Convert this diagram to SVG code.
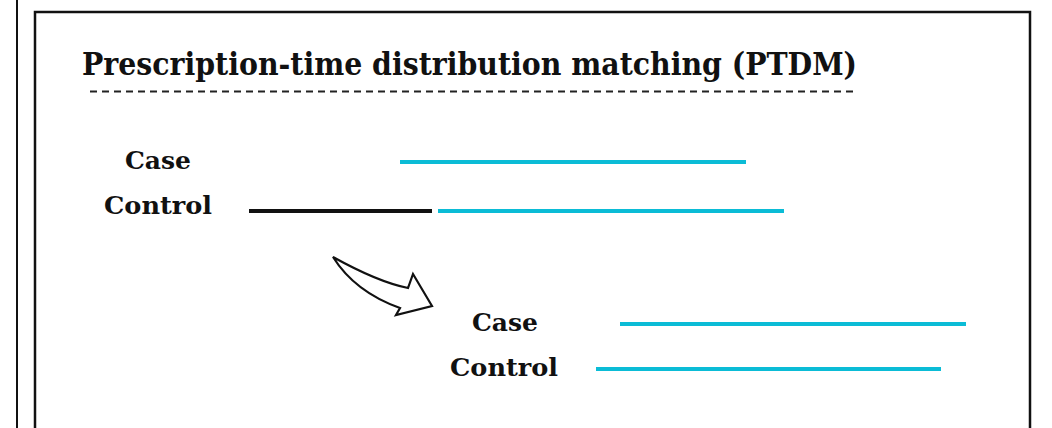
<svg xmlns="http://www.w3.org/2000/svg" width="1052" height="428" viewBox="0 0 1052 428">
<style>
.lbl{font-family:"DejaVu Serif","Liberation Serif",serif;font-weight:bold;font-size:25px;fill:#111}
.cy{stroke:#0bbcd6;stroke-width:4;fill:none}
</style>
<rect width="1052" height="428" fill="#fff"/>
<line x1="17" y1="0" x2="17" y2="428" stroke="#111" stroke-width="2"/>
<path d="M35,440 V12 H1030 V440" fill="none" stroke="#111" stroke-width="2.5"/>
<g id="title">
<text x="82" y="75" font-family="DejaVu Serif, Liberation Serif, serif" font-weight="bold" font-size="32" fill="#111" textLength="775" lengthAdjust="spacingAndGlyphs">Prescription-time distribution matching (PTDM)</text>
<line x1="90" y1="91.5" x2="857" y2="91.5" stroke="#222" stroke-width="2" stroke-dasharray="7,5"/>
</g>
<g id="before">
<text class="lbl" x="158" y="169" text-anchor="middle" textLength="66" lengthAdjust="spacingAndGlyphs">Case</text>
<text class="lbl" x="158" y="214" text-anchor="middle" textLength="108" lengthAdjust="spacingAndGlyphs">Control</text>
</g>
<g id="after">
<text class="lbl" x="505" y="331" text-anchor="middle" textLength="66" lengthAdjust="spacingAndGlyphs">Case</text>
<text class="lbl" x="504" y="376" text-anchor="middle" textLength="108" lengthAdjust="spacingAndGlyphs">Control</text>
</g>
<g id="connectors">
<line class="cy" x1="400" y1="162" x2="746" y2="162"/>
<line x1="249" y1="211" x2="432" y2="211" stroke="#111" stroke-width="4"/>
<line class="cy" x1="438" y1="211" x2="784" y2="211"/>
<line class="cy" x1="620" y1="324" x2="966" y2="324"/>
<line class="cy" x1="596" y1="369" x2="941" y2="369"/>
<path d="M333,257 Q378,282 408,288 L413,274 L432,306 L396,315 L400,308 Q355,292 333,257 Z" fill="#fff" stroke="#111" stroke-width="2.2" stroke-linejoin="miter"/>
</g>
</svg>
